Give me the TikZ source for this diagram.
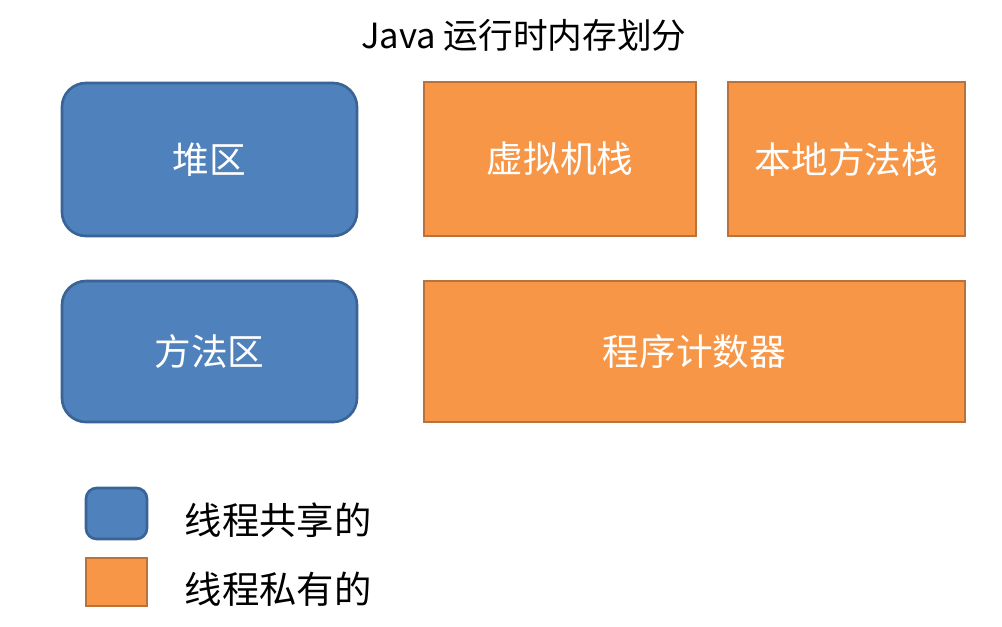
\documentclass[tikz,border=0pt]{standalone}
\usepackage{fontspec}
\newfontfamily\cjk{Noto Sans CJK SC}
\definecolor{shblue}{HTML}{4F81BD}
\definecolor{shblueb}{HTML}{3A6496}
\definecolor{pvorange}{HTML}{F79646}
\definecolor{pvorangeb}{HTML}{B8723A}
\begin{document}
\begin{tikzpicture}[x=0.75pt,y=-0.75pt,
  shared/.style={draw=shblueb,fill=shblue,line width=2pt,rounded corners=18pt},
  private/.style={draw=pvorangeb,fill=pvorange,line width=2pt},
  boxtext/.style={text=white,font=\cjk\fontsize{27.5}{32}\selectfont},
  legtext/.style={text=black,font=\cjk\fontsize{28}{32}\selectfont,anchor=west}]
\useasboundingbox (0,0) rectangle (1002,626);
\node[font=\cjk\fontsize{26}{30}\selectfont] (title) at (524,35) {Java 运行时内存划分};
\draw[shared] (62,83) rectangle (357,236) node[midway,boxtext] (heap) {堆区};
\draw[shared] (62,281) rectangle (357,422) node[midway,boxtext] (method) {方法区};
\draw[private] (424,82) rectangle (696,236) node[midway,boxtext] (vms) {虚拟机栈};
\draw[private] (728,82) rectangle (965,236) node[midway,boxtext] (nms) {本地方法栈};
\draw[private] (424,281) rectangle (965,422) node[midway,boxtext] (pc) {程序计数器};
\draw[shared,rounded corners=8pt] (86,488) rectangle (147,539) coordinate (lb);
\draw[private] (86,558) rectangle (147,606) coordinate (lo);
\node[legtext] (lt1) at (180,520) {线程共享的};
\node[legtext] (lt2) at (180,589) {线程私有的};
\end{tikzpicture}
\end{document}
